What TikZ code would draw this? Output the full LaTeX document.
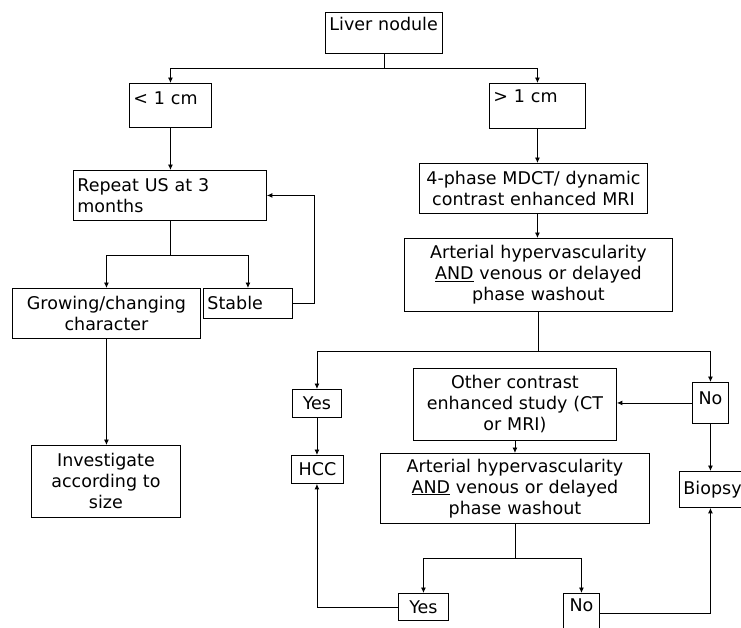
\documentclass[tikz,border=0pt]{standalone}
\usepackage{fontspec}
\setmainfont{DejaVu Sans}
\usetikzlibrary{positioning,calc,arrows.meta}

\tikzset{
  box/.style={draw, anchor=north west, inner xsep=4pt, inner ysep=3pt, align=center},
  lbox/.style={box, align=left},
  flow/.style={-{Latex[length=5.5pt,width=5pt]}},
}

\begin{document}
\begin{tikzpicture}[x=1pt, y=-1pt, line width=0.9pt, font=\fontsize{17.5}{21}\selectfont]
    \useasboundingbox (0,0) rectangle (741,627);

    % Boxes
    \node[lbox, text width=109pt, text height=15pt, text depth=20pt] (liver) at (325,12) {Liver nodule};
    \node[lbox, text width=74pt, text height=18pt, text depth=20pt] (lt) at (129,83) {< 1 cm};
    \node[lbox, text width=88pt, text height=16pt, text depth=23pt] (gt) at (489,83) {> 1 cm};

    \node[lbox, text width=185pt, minimum height=50pt] (repeat) at (73,170) {Repeat US at 3\\months};
    \node[box, text width=180pt, minimum height=50pt] (grow) at (12,288) {Growing/changing\\character};
    \node[lbox, text width=81pt, minimum height=30pt] (stable) at (203,288) {Stable};
    \node[box, text width=141pt, minimum height=72pt] (invest) at (31,445) {Investigate\\according to\\size};

    \node[box, text width=220pt, minimum height=50pt] (mdct) at (419,163) {4-phase MDCT/ dynamic\\contrast enhanced MRI};
    \node[box, text width=260pt, minimum height=73pt] (arter1) at (404,238) {Arterial hypervascularity\\\underline{AND} venous or delayed\\phase washout};

    \node[box, text width=41pt, minimum height=28pt] (yes1) at (292,389) {Yes};
    \node[box, text width=44pt, minimum height=28pt] (hcc) at (291,455) {HCC};
    \node[box, text width=195pt, minimum height=72pt] (other) at (413,368) {Other contrast\\enhanced study (CT\\or MRI)};
    \node[box, text width=28pt, text height=19pt, text depth=16pt] (no1) at (692,382) {No};
    \node[lbox, text width=72pt, minimum height=36pt] (biopsy) at (679,471) {Biopsy};
    \node[box, text width=261pt, minimum height=70pt] (arter2) at (380,453) {Arterial hypervascularity\\\underline{AND} venous or delayed\\phase washout};
    \node[box, text width=42pt, minimum height=27pt] (yes2) at (398,593) {Yes};
    \node[box, text width=28pt, text height=15pt, text depth=19pt] (no2) at (563,593) {No};

    % Size split
    \path (liver.south) ++(0,15) coordinate (s1);
    \draw (liver.south) -- (s1);
    \draw[flow] (s1) -| (lt.north);
    \draw[flow] (s1) -| (gt.north);

    % Small nodule branch
    \draw[flow] (lt.south) -- (lt.south |- repeat.north);
    \path (repeat.south) ++(0,35) coordinate (s2);
    \draw (repeat.south) -- (s2);
    \draw[flow] (s2) -| (grow.north);
    \draw[flow] (s2) -| (stable.north);
    \draw[flow] (stable.east) -- ++(22,0) |- (repeat.east);
    \draw[flow] (grow.south) -- (grow.south |- invest.north);

    % Large nodule branch
    \draw[flow] (gt.south) -- (gt.south |- mdct.north);
    \draw[flow] (gt.south |- mdct.south) -- (gt.south |- arter1.north);
    \path (arter1.south) ++(0,40) coordinate (s3);
    \draw (arter1.south) -- (s3);
    \draw[flow] (s3) -| (yes1.north);
    \draw[flow] (s3) -| (no1.north);
    \draw[flow] (no1.west) -- (no1.west -| other.east);
    \draw[flow] (no1.south) -- (no1.south |- biopsy.north);
    \draw[flow] (yes1.south) -- (yes1.south |- hcc.north);

    % Second study
    \draw[flow] (other.south) -- (arter2.north);
    \path (arter2.south) ++(0,35) coordinate (s4);
    \draw (arter2.south) -- (s4);
    \draw[flow] (s4) -| (yes2.north);
    \draw[flow] (s4) -| (no2.north);
    \draw[flow] (yes2.west) -| (yes1.south |- hcc.south);
    \draw[flow] (no2.east) -| (no1.south |- biopsy.south);
\end{tikzpicture}
\end{document}
